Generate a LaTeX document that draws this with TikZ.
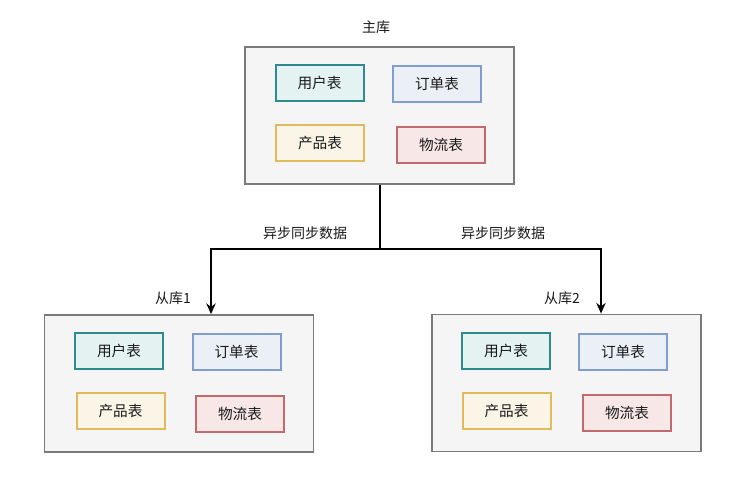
\documentclass[tikz,border=0pt]{standalone}
\usepackage{fontspec}
\setmainfont{Noto Sans CJK SC}
\usetikzlibrary{arrows.meta,calc}
\definecolor{outerfill}{HTML}{F5F5F5}
\definecolor{outerdraw}{HTML}{7A7A7A}
\definecolor{tealdraw}{HTML}{2E8A8C}
\definecolor{tealfill}{HTML}{E4F2F2}
\definecolor{bluedraw}{HTML}{819DCB}
\definecolor{bluefill}{HTML}{EBF0F7}
\definecolor{yeldraw}{HTML}{E2BA5C}
\definecolor{yelfill}{HTML}{FBF5E8}
\definecolor{reddraw}{HTML}{C26A6E}
\definecolor{redfill}{HTML}{F7E7E7}
\definecolor{txt}{HTML}{1A1A1A}
\tikzset{
  dbbox/.style={draw=outerdraw, fill=outerfill, line width=1.1pt, minimum width=202pt, minimum height=103pt, inner sep=0pt},
  tbl/.style={line width=1.5pt, minimum width=66pt, minimum height=27pt, inner sep=0pt, font=\fontsize{11}{13}\selectfont, text=txt},
  tuser/.style={tbl, draw=tealdraw, fill=tealfill},
  torder/.style={tbl, draw=bluedraw, fill=bluefill},
  tprod/.style={tbl, draw=yeldraw, fill=yelfill},
  tlog/.style={tbl, draw=reddraw, fill=redfill},
  lbl/.style={font=\fontsize{10.5}{12}\selectfont, text=txt, inner sep=0pt},
  flow/.style={draw=black, line width=1.5pt, -{Stealth[length=8pt,width=7pt]}}
}
\begin{document}
\begin{tikzpicture}[x=0.75pt,y=-0.75pt]
\useasboundingbox (0,0) rectangle (745,487);
\fill[white] (0,0) rectangle (745,487);
% master
\node[dbbox] (m) at (379.5,115.5) {};
\node[lbl] (mt) at (376,27) {主库};
\node[tuser] (mu) at (319.5,83) {用户表};
\node[torder] (mo) at (437,84) {订单表};
\node[tprod] (mp) at (320,142.5) {产品表};
\node[tlog] (ml) at (441,145) {物流表};
% slave 1
\node[dbbox] (s1) at (179,383.5) {};
\node[lbl] (s1t) at (173,298) {从库1};
\node[tuser] (s1u) at (119,351) {用户表};
\node[torder] (s1o) at (236.5,352) {订单表};
\node[tprod] (s1p) at (120.5,410.5) {产品表};
\node[tlog] (s1l) at (240,413.5) {物流表};
% slave 2
\node[dbbox] (s2) at (566.5,383) {};
\node[lbl] (s2t) at (562,298) {从库2};
\node[tuser] (s2u) at (506,350.5) {用户表};
\node[torder] (s2o) at (623,351.5) {订单表};
\node[tprod] (s2p) at (506.5,410.5) {产品表};
\node[tlog] (s2l) at (627,413) {物流表};
% connectors
\coordinate (j) at (380,249);
\coordinate (a1) at (211,0);
\coordinate (a2) at (601,0);
\draw[flow] (m.south -| j) -- (j) -| (s1.north -| a1);
\draw[flow] (j) -| (s2.north -| a2);
\node[lbl] (l1) at (305,233) {异步同步数据};
\node[lbl] (l2) at (503,233) {异步同步数据};
\end{tikzpicture}
\end{document}
